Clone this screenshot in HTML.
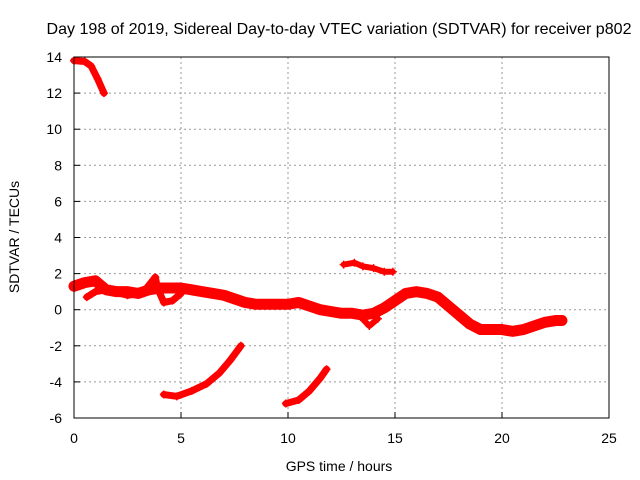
<!DOCTYPE html>
<html><head><meta charset="utf-8"><style>
body{margin:0;background:#fff;}
svg{display:block;font-family:"Liberation Sans",sans-serif;}
</style></head><body>
<svg width="640" height="480" id="c">
<rect width="640" height="480" fill="#fff"/>
<text x="339" y="34" font-size="16" text-anchor="middle" textLength="585" lengthAdjust="spacingAndGlyphs" fill="#000">Day 198 of 2019, Sidereal Day-to-day VTEC variation (SDTVAR) for receiver p802</text>
<text x="339" y="471" font-size="14" text-anchor="middle">GPS time / hours</text>
<text transform="translate(19,237) rotate(-90)" font-size="14" text-anchor="middle">SDTVAR / TECUs</text>
<g id="grid"></g><g id="marks"></g>
<rect x="74" y="57" width="535" height="361" fill="none" stroke="#000" stroke-width="1"/>
</svg>
<script>
const xTicks=[0,5,10,15,20,25];
const yTicks=[-6,-4,-2,0,2,4,6,8,10,12,14];
const seriesTop=[[0,13.8],[0.5,13.75],[0.8,13.5],[1.1,12.8],[1.4,12.0]];
const seriesMain=[[0,1.3],[0.5,1.5],[1,1.6],[1.5,1.1],[2,1.0],[2.5,1.0],[3,0.9],[3.5,1.1],[4,1.2],[4.5,1.2],[5,1.2],[5.5,1.1],[6,1.0],[6.5,0.9],[7,0.8],[7.5,0.6],[8,0.4],[8.5,0.3],[9,0.3],[9.5,0.3],[10,0.3],[10.5,0.4],[11,0.2],[11.5,0.0],[12,-0.1],[12.5,-0.2],[13,-0.2],[13.5,-0.3],[14,-0.2],[14.5,0.1],[15,0.5],[15.5,0.9],[16,1.0],[16.5,0.9],[17,0.7],[17.5,0.2],[18,-0.3],[18.5,-0.8],[19,-1.1],[19.5,-1.1],[20,-1.1],[20.5,-1.2],[21,-1.1],[21.5,-0.9],[22,-0.7],[22.5,-0.6],[22.8,-0.6]];
const seriesLoop=[[0.6,0.7],[1,1.0],[1.5,1.1],[2.5,0.8],[3.2,0.9],[3.8,1.8],[3.9,1.2],[4.2,0.4],[4.6,0.5],[5,0.9]];
const seriesDip=[[13.4,-0.4],[13.8,-0.9],[14.2,-0.5]];
const seriesSegA=[[4.2,-4.7],[4.8,-4.8],[5.5,-4.5],[6.2,-4.1],[6.8,-3.5],[7.3,-2.8],[7.8,-2.0]];
const seriesSegB=[[9.9,-5.2],[10.5,-5.0],[11,-4.5],[11.5,-3.8],[11.8,-3.3]];
const seriesSegC=[[12.6,2.5],[13.1,2.6],[13.5,2.4],[14,2.3],[14.5,2.1],[14.9,2.1]];
const NS="http://www.w3.org/2000/svg";
const X=h=>74+h*21.4, Y=v=>309.7-v*18.05;
const grid=document.getElementById('grid'), marks=document.getElementById('marks');
function mk(t,a,p){const e=document.createElementNS(NS,t);for(const k in a)e.setAttribute(k,a[k]);p.appendChild(e);return e;}
xTicks.forEach(t=>{
  if(t>0&&t<25){const l=mk('line',{x1:X(t),x2:X(t),y1:57,y2:418,stroke:'#999','stroke-dasharray':'2,3'},grid);
  
  }
  const s=mk('text',{x:X(t),y:443,'font-size':14,'text-anchor':'middle'},grid);s.textContent=t;
  
  
  mk('line',{x1:X(t),x2:X(t),y1:418,y2:412,stroke:'#000'},grid);
});
yTicks.forEach(t=>{
  if(t>-6&&t<14){const l=mk('line',{x1:74,x2:609,y1:Y(t),y2:Y(t),stroke:'#999','stroke-dasharray':'2,3'},grid);
  
  }
  const s=mk('text',{x:62,y:Y(t)+5,'font-size':14,'text-anchor':'end'},grid);s.textContent=t;
  
  
  mk('line',{x1:74,x2:80,y1:Y(t),y2:Y(t),stroke:'#000'},grid);
});
function draw(d,w,name){
  const p=mk('polyline',{points:d.map(q=>X(q[0])+','+Y(q[1])).join(' '),fill:'none',stroke:'#f00','stroke-width':w,'stroke-linejoin':'round','stroke-linecap':'round'},marks);
  
  
  d.forEach(q=>{const x=X(q[0]),y=Y(q[1]);
    const m=mk('path',{d:`M${x-4},${y}h8M${x},${y-4}v8`,stroke:'#f00','stroke-width':1.5},marks);
    
    });
}
draw(seriesTop,7,'series-top');
draw(seriesMain,11,'series-main');
draw(seriesLoop,7,'series-loop');
draw(seriesDip,6,'series-dip');
draw(seriesSegA,7,'series-seg-a');
draw(seriesSegB,7,'series-seg-b');
draw(seriesSegC,6,'series-seg-c');
</script>
</body></html>
